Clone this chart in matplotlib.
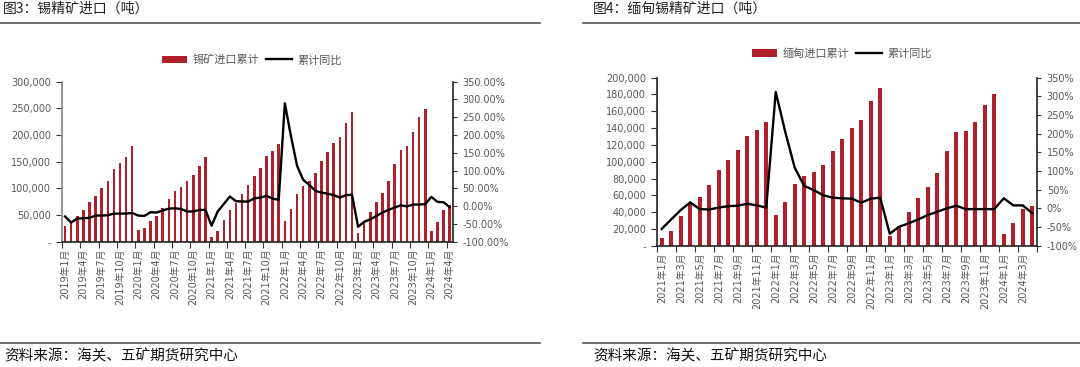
import numpy as np
import matplotlib.pyplot as plt
from matplotlib.ticker import FuncFormatter, FixedLocator
from matplotlib.lines import Line2D

plt.rcParams['font.family'] = ['DejaVu Sans', 'Noto Sans CJK SC']
CJK = ['Noto Sans CJK SC', 'DejaVu Sans']

# 图3: 锡精矿进口, 2019年1月 - 2024年4月
tin_months = [f"{y}年{m}月" for y in range(2019, 2025) for m in range(1, 13)][:64]
tin_cum = [30000, 37000, 48000, 58750, 74400, 86250, 100600, 113000, 135600, 147500, 158000, 179400,
           21900, 25000, 39400, 48000, 62500, 79400, 95000, 103000, 113000, 124400, 142000, 158000,
           9400, 19400, 40600, 60000, 72000, 89400, 107000, 123000, 138000, 160000, 170000, 184000,
           39400, 60600, 88750, 104400, 114400, 128750, 151250, 168000, 184400, 196250, 222500, 243750,
           16900, 36400, 55000, 74400, 91900, 114400, 145600, 171900, 178750, 205600, 233100, 248750,
           20000, 36900, 59400, 68000]
tin_yoy = [-29, -46, -35, -34, -33, -26.5, -26.5, -25.6, -21, -21, -21, -19,
           -26.5, -27.5, -17, -18, -12, -7, -6, -8, -15, -15, -10.5, -10.5,
           -55, -15, 6, 27, 14, 13, 13, 22, 24, 29, 21, 18,
           289, 197, 114, 74, 60, 43, 38, 35, 31, 24, 31, 32,
           -58, -44, -37, -27.5, -18, -10.5, -4, 2.6, -1, 4.5, 4.5, 5.5,
           26, 12, 11, -3]

# 图4: 缅甸锡精矿进口, 2021年1月 - 2024年4月
mm_months = [f"{y}年{m}月" for y in range(2021, 2025) for m in range(1, 13)][:40]
mm_cum = [8700, 17500, 35300, 49600, 57500, 71800, 90000, 102000, 113900, 130500, 137300, 147200,
          36500, 52000, 73000, 83000, 87300, 96000, 113100, 127400, 139700, 149600, 171800, 187300,
          11500, 23800, 40500, 56300, 69800, 86100, 113100, 135300, 136500, 147200, 167400, 180500,
          14300, 26600, 44000, 47600]
mm_yoy = [-55, -29.5, -4.5, 16, -2, -3, 2, 6, 7, 12.5, 8, 2,
          312, 205, 109, 60, 49, 35, 28.6, 26.8, 26, 15, 26, 28.6,
          -68, -49, -40, -29.5, -18, -9, 0, 7, -2, -2, -2, -2,
          27, 8, 8, -13]

BAR = '#B0202A'
GRAY = '#595959'

fig = plt.figure(figsize=(10.8, 3.67), dpi=100)


def panel(rect, months, cum, yoy, step, ymax, ystep, pct_fmt, bar_label, leg_xy, lspine):
    n = len(months)
    x = np.arange(n)
    ax = fig.add_axes(rect)
    ax.bar(x, cum, width=0.42, color=BAR, label=bar_label, zorder=2)
    ax.set_xlim(-0.5, n - 0.5)
    ax.set_ylim(0, ymax)
    ax.set_yticks(np.arange(0, ymax + 1, ystep))
    ax.yaxis.set_major_formatter(FuncFormatter(lambda v, p: '-' if v == 0 else f'{v:,.0f}'))
    ax.xaxis.set_major_locator(FixedLocator([i - 0.5 for i in range(0, n + 1, step)]))
    ax.xaxis.set_major_formatter(FuncFormatter(lambda v, p: ''))
    ax.xaxis.set_minor_locator(FixedLocator(list(range(0, n, step))))
    ax.set_xticklabels([months[i] for i in range(0, n, step)], minor=True, rotation=90)
    ax.tick_params(axis='x', which='major', length=4, color='#333333', direction='out')
    ax.tick_params(axis='x', which='minor', length=0, pad=5, labelsize=7, labelcolor=GRAY)
    ax.tick_params(axis='y', length=4, color='#333333', labelsize=7, labelcolor=GRAY, pad=4)
    for s in ['top', 'right']:
        ax.spines[s].set_visible(False)
    ax.spines['left'].set_color(lspine)
    ax.spines['left'].set_linewidth(1.3)
    ax.spines['bottom'].set_color('#222222')
    ax.spines['bottom'].set_linewidth(1.2)

    ax2 = ax.twinx()
    ax2.plot(x, yoy, color='black', lw=1.7, label='累计同比', zorder=3)
    ax2.set_ylim(-100, 350)
    ax2.set_yticks(np.arange(-100, 351, 50))
    ax2.yaxis.set_major_formatter(FuncFormatter(lambda v, p: pct_fmt.format(v)))
    ax2.tick_params(axis='y', length=3, color='#333333', labelsize=7, labelcolor=GRAY, pad=4)
    for s in ['top', 'left', 'bottom']:
        ax2.spines[s].set_visible(False)
    ax2.spines['right'].set_color('#222222')
    ax2.spines['right'].set_linewidth(1.2)

    h1, l1 = ax.get_legend_handles_labels()
    h2, l2 = ax2.get_legend_handles_labels()
    fig.legend(h1 + h2, l1 + l2, loc='center', bbox_to_anchor=leg_xy, ncol=2, frameon=False,
               prop={'family': CJK, 'size': 8}, labelcolor=GRAY, handlelength=2.3,
               handletextpad=0.5, columnspacing=0.6, borderpad=0)
    return ax


panel([0.0574, 0.3414, 0.3618, 0.436], tin_months, tin_cum, tin_yoy, 3, 300000, 50000,
      '{:.2f}%', '锡矿进口累计', (0.233, 0.8365), '#8C8C8C')
panel([0.6083, 0.3305, 0.3519, 0.4578], mm_months, mm_cum, mm_yoy, 2, 200000, 20000,
      '{:.0f}%', '缅甸进口累计', (0.7796, 0.853), '#333333')

# titles, rules and source notes
fig.text(0.003, 0.9755, '图3：锡精矿进口（吨）', family=CJK, fontsize=10, color='#222222', va='center')
fig.text(0.549, 0.9755, '图4：缅甸锡精矿进口（吨）', family=CJK, fontsize=10, color='#222222', va='center')
for x0, x1 in [(0.0, 0.5), (0.54, 1.0)]:
    fig.add_artist(Line2D([x0, x1], [0.938, 0.938], color='#555555', lw=1.2))
    fig.add_artist(Line2D([x0, x1], [0.066, 0.066], color='#555555', lw=1.2))
fig.text(0.004, 0.030, '资料来源：海关、五矿期货研究中心', family=CJK, fontsize=10.5, color='#111111', va='center')
fig.text(0.549, 0.030, '资料来源：海关、五矿期货研究中心', family=CJK, fontsize=10.5, color='#111111', va='center')

fig.savefig('out.png', dpi=100)
plt.close(fig)
